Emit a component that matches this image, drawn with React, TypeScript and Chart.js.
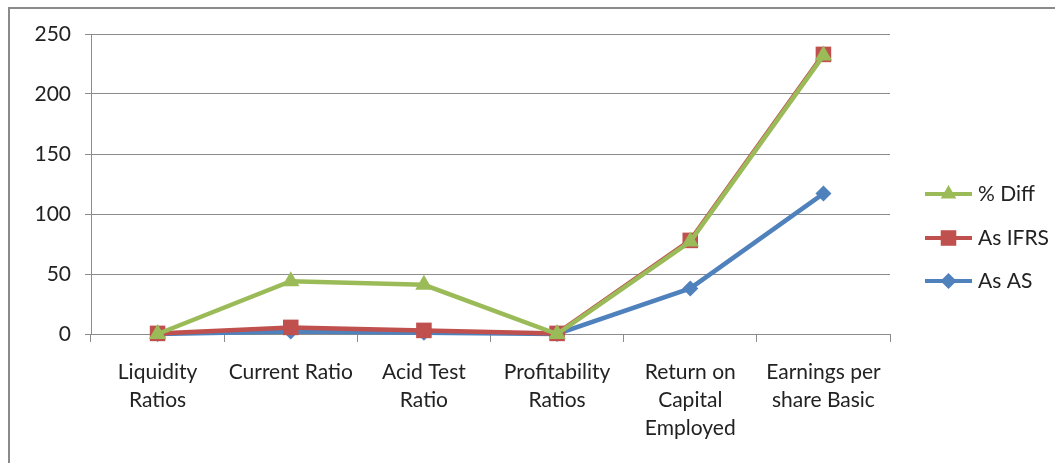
import React, { useEffect, useRef } from 'react';
import { Chart, registerables } from 'chart.js';

Chart.register(...registerables);

const categories: string[][] = [
  ['Liquidity', 'Ratios'],
  ['Current Ratio'],
  ['Acid Test', 'Ratio'],
  ['Profitability', 'Ratios'],
  ['Return on', 'Capital', 'Employed'],
  ['Earnings per', 'share Basic'],
];
const pctDiff = [0, 44, 41, 0, 77, 232];
const asIFRS = [0.5, 5.5, 3, 0.5, 78, 233];
const asAS = [0, 2, 1, 0, 38, 117];
const yMin = 0;
const yMax = 250;
const yStep = 50;

const GREEN = '#9BBB59';
const RED = '#C0504D';
const BLUE = '#4F81BD';
const FONT = 'Lato, "Open Sans", sans-serif';

const legendPlugin = {
  id: 'sideLegend',
  afterDraw(chart: any) {
    const ctx = chart.ctx;
    const items = chart.data.datasets;
    const x0 = 925;
    const x1 = 972;
    const ys = [194, 238, 281];
    ctx.save();
    items.forEach((ds: any, i: number) => {
      const y = ys[i];
      ctx.strokeStyle = ds.borderColor;
      ctx.lineWidth = 4;
      ctx.beginPath();
      ctx.moveTo(x0, y);
      ctx.lineTo(x1, y);
      ctx.stroke();
      const cx = (x0 + x1) / 2;
      ctx.fillStyle = ds.borderColor;
      ctx.beginPath();
      const r = ds.legendRadius;
      if (ds.pointStyle === 'triangle') {
        ctx.moveTo(cx, y - r);
        ctx.lineTo(cx + r * 0.866, y + r * 0.5);
        ctx.lineTo(cx - r * 0.866, y + r * 0.5);
        ctx.closePath();
      } else if (ds.pointStyle === 'rect') {
        const s = r * Math.SQRT1_2;
        ctx.rect(cx - s, y - s, 2 * s, 2 * s);
      } else {
        ctx.moveTo(cx, y - r);
        ctx.lineTo(cx + r, y);
        ctx.lineTo(cx, y + r);
        ctx.lineTo(cx - r, y);
        ctx.closePath();
      }
      ctx.fill();
      ctx.fillStyle = '#222';
      ctx.font = `21px ${FONT}`;
      ctx.textBaseline = 'middle';
      ctx.textAlign = 'left';
      ctx.fillText(ds.label, 978, y);
    });
    ctx.restore();
  },
};

export default function App() {
  const ref = useRef<HTMLCanvasElement | null>(null);
  useEffect(() => {
    if (!ref.current) return;
    const chart = new Chart(ref.current, {
      type: 'line',
      data: {
        labels: categories,
        datasets: [
          {
            label: '% Diff',
            data: pctDiff,
            borderColor: GREEN,
            backgroundColor: GREEN,
            borderWidth: 4.5,
            pointStyle: 'triangle',
            pointRadius: 10,
            pointBorderWidth: 0,
            pointBackgroundColor: GREEN,
            clip: false,
            legendRadius: 9,
          } as any,
          {
            label: 'As IFRS',
            data: asIFRS,
            borderColor: RED,
            backgroundColor: RED,
            borderWidth: 4.5,
            pointStyle: 'rect',
            pointRadius: 11,
            pointBorderWidth: 0,
            pointBackgroundColor: RED,
            clip: false,
            legendRadius: 11,
          } as any,
          {
            label: 'As AS',
            data: asAS,
            borderColor: BLUE,
            backgroundColor: BLUE,
            borderWidth: 4.5,
            pointStyle: 'rectRot',
            pointRadius: 8,
            pointBorderWidth: 0,
            pointBackgroundColor: BLUE,
            clip: false,
            legendRadius: 8,
          } as any,
        ],
      },
      options: {
        responsive: false,
        animation: false,
        layout: { padding: { left: 0, top: 34, right: 165, bottom: 0 } },
        plugins: {
          legend: { display: false },
          tooltip: { enabled: false },
        },
        elements: { line: { tension: 0 } },
        scales: {
          x: {
            offset: true,
            grid: {
              offset: true,
              drawOnChartArea: false,
              drawTicks: true,
              tickLength: 8,
              color: '#8c8c8c',
              lineWidth: 1,
            },
            border: { color: '#8c8c8c', width: 1 },
            ticks: {
              color: '#222',
              font: { family: FONT, size: 21, lineHeight: 1.33 },
              padding: 16,
              maxRotation: 0,
              autoSkip: false,
            },
            afterFit(scale: any) {
              scale.height = 129;
            },
          },
          y: {
            min: yMin,
            max: yMax,
            grid: {
              color: '#8c8c8c',
              lineWidth: 1,
              tickLength: 6,
            },
            border: { color: '#8c8c8c', width: 1 },
            ticks: {
              stepSize: yStep,
              color: '#222',
              font: { family: FONT, size: 21 },
              padding: 14,
            },
            afterFit(scale: any) {
              scale.width = 91;
            },
          },
        },
      },
      plugins: [legendPlugin],
    });
    return () => chart.destroy();
  }, []);

  return (
    <div
      style={{
        position: 'fixed',
        left: 0,
        top: 0,
        width: 1055,
        height: 463,
        background: '#fff',
        overflow: 'hidden',
      }}
    >
      <div
        style={{
          position: 'absolute',
          left: 8,
          top: 7,
          width: 1200,
          height: 600,
          border: '2px solid #8a8a8a',
        }}
      />
      <canvas
        ref={ref}
        width={1055}
        height={463}
        style={{ position: 'absolute', left: 0, top: 0 }}
      />
    </div>
  );
}
